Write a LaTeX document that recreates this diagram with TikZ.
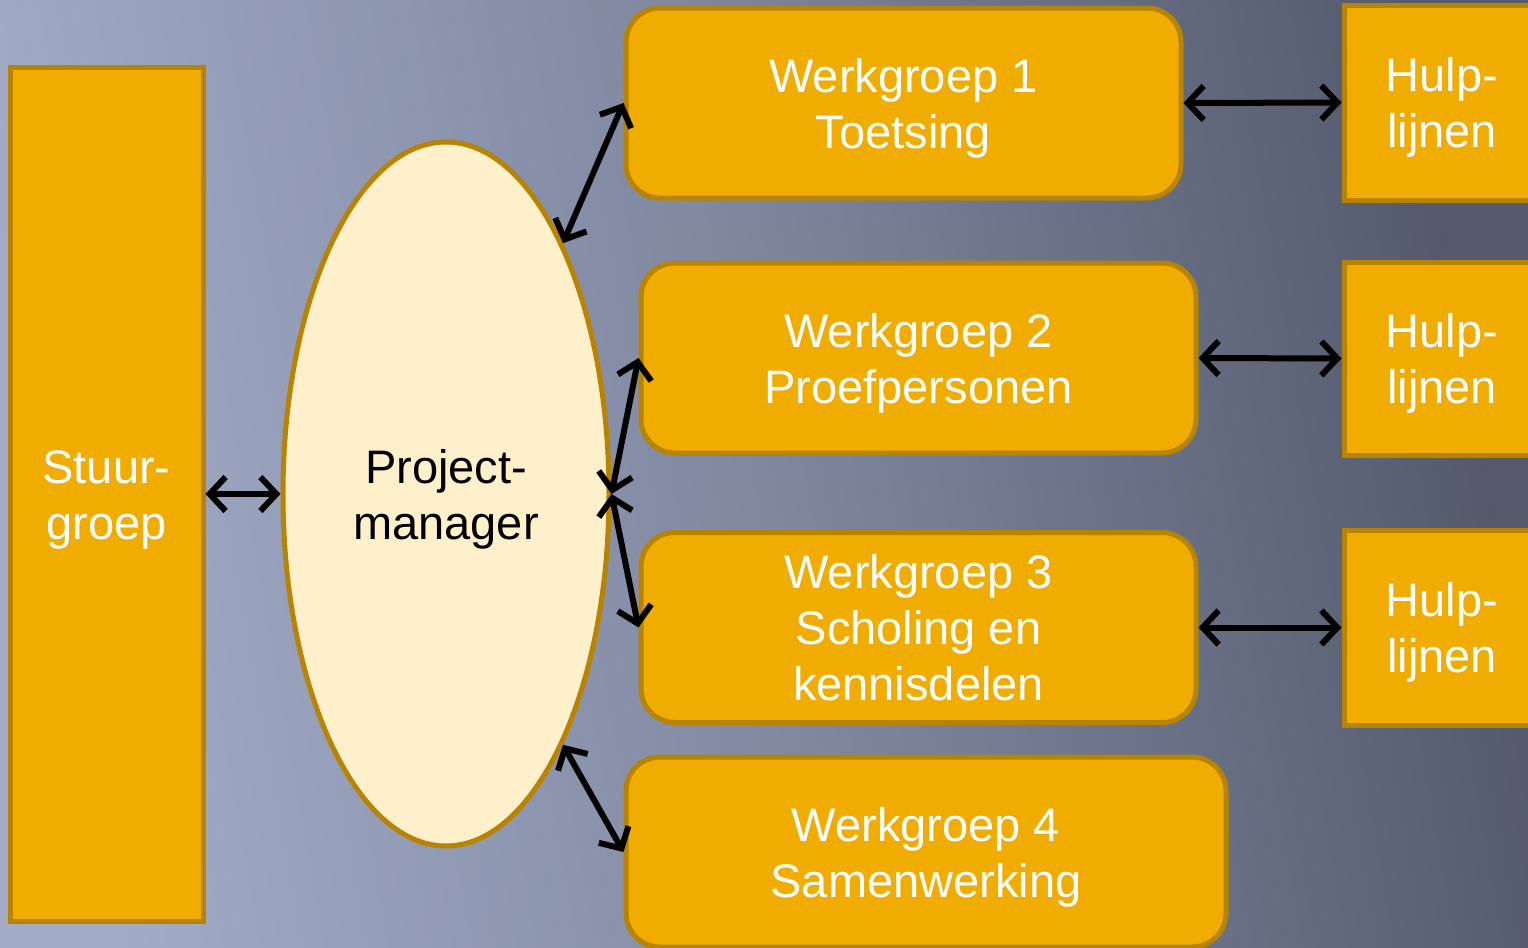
\documentclass[tikz,border=0pt]{standalone}
\usepackage{fontspec}
\setmainfont{Liberation Sans}
\usepackage{xcolor}
\usetikzlibrary{arrows.meta,shapes.geometric}

\definecolor{oranje}{RGB}{240,173,0}
\definecolor{oranjerand}{RGB}{184,132,0}
\definecolor{creme}{RGB}{255,240,204}
\definecolor{achterlicht}{RGB}{162,171,199}
\definecolor{achtermidden}{RGB}{128,136,160}
\definecolor{achterdonker}{RGB}{84,90,108}

\newcommand{\bovenrand}{\rule{0pt}{0.94em}}

\tikzset{
  tekst/.style={align=center, font=\fontsize{23.5}{28}\selectfont, inner sep=0pt},
  groepbox/.style={tekst, draw=oranjerand, fill=oranje, line width=2.5pt, text=white},
  pijl/.style={{Straight Barb[length=8pt,width=17pt]}-{Straight Barb[length=8pt,width=17pt]},
    line width=3pt, line cap=round, black}
}

\begin{document}
\begin{tikzpicture}[x=0.5pt,y=0.5pt,yscale=-1,xscale=1]
\useasboundingbox (0,0) rectangle (1528,948);
\clip (0,0) rectangle (1528,948);

%Background
\shade[left color=achterlicht, right color=achterdonker, middle color=achtermidden, shading angle=100] (0,0) rectangle (1528,948);

%Shape: Rectangle
\node[groepbox, minimum width=96.5pt, minimum height=427pt] (stuur) at (106.5,494) {\bovenrand Stuur-\\groep};
%Shape: Ellipse
\node[tekst, ellipse, draw=oranjerand, fill=creme, line width=2.5pt, minimum width=163pt, minimum height=352pt] (pm) at (446,494) {\bovenrand Project-\\manager};

%Shape: Rounded Rectangle
\node[groepbox, rounded corners=17pt, minimum width=277.5pt, minimum height=95pt] (wg1) at (903.5,103) {\bovenrand Werkgroep 1\\Toetsing};
%Shape: Rounded Rectangle
\node[groepbox, rounded corners=17pt, minimum width=277.5pt, minimum height=95pt] (wg2) at (918.5,358) {\bovenrand Werkgroep 2\\Proefpersonen};
%Shape: Rounded Rectangle
\node[groepbox, rounded corners=17pt, minimum width=277.5pt, minimum height=95pt] (wg3) at (918.5,627.5) {\bovenrand Werkgroep 3\\Scholing en\\kennisdelen\rule[-0.21em]{0pt}{0.21em}};
%Shape: Rounded Rectangle
\node[groepbox, rounded corners=17pt, minimum width=300pt, minimum height=95pt] (wg4) at (926,852) {\bovenrand Werkgroep 4\\Samenwerking};

%Shape: Rectangle
\node[groepbox, minimum width=98pt, minimum height=97.5pt] (hulp1) at (1442,102.5) {\bovenrand Hulp-\\lijnen};
%Shape: Rectangle
\node[groepbox, minimum width=98pt, minimum height=96.5pt] (hulp2) at (1442,358.5) {\bovenrand Hulp-\\lijnen};
%Shape: Rectangle
\node[groepbox, minimum width=98pt, minimum height=97.5pt] (hulp3) at (1442,627.5) {\bovenrand Hulp-\\lijnen};

%Straight Lines
\draw[pijl] (stuur.east) -- (pm.west);
\draw[pijl] (pm.65) -- (wg1.west);
\draw[pijl] (pm.east) -- (wg2.west);
\draw[pijl] (pm.east) -- (wg3.west);
\draw[pijl] (pm.-65) -- (wg4.west);
\draw[pijl] (wg1.east) -- (hulp1.west);
\draw[pijl] (wg2.east) -- (hulp2.west);
\draw[pijl] (wg3.east) -- (hulp3.west);

\end{tikzpicture}
\end{document}
